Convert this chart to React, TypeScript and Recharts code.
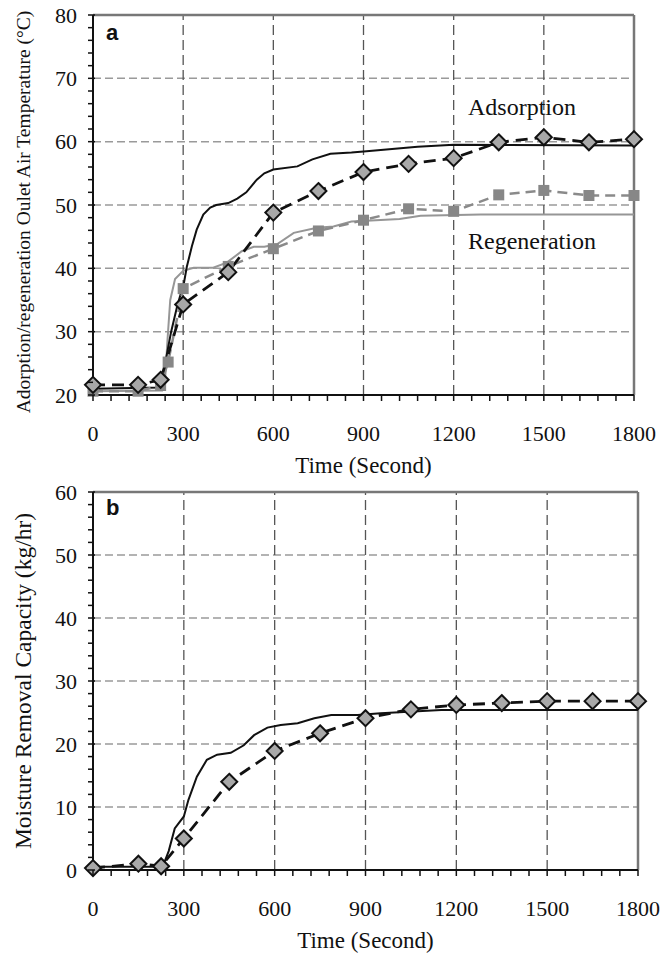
import { LineChart, Line, XAxis, YAxis, ReferenceLine } from "recharts";

// measured points (markers), sampled every 150 s
const measuredTime = [0, 150, 225, 300, 450, 600, 750, 900, 1050, 1200, 1350, 1500, 1650, 1800];
const adsMeasured = [21.6, 21.6, 22.4, 34.3, 39.4, 48.8, 52.2, 55.2, 56.5, 57.4, 59.9, 60.7, 59.9, 60.4];

const regMeasuredTime = [0, 150, 225, 250, 300, 450, 600, 750, 900, 1050, 1200, 1350, 1500, 1650, 1800];
const regMeasured = [20.6, 20.6, 21.5, 25.2, 36.8, 40.3, 43.1, 45.9, 47.6, 49.4, 49.0, 51.6, 52.3, 51.5, 51.5];

// simulated curves
const adsSimTime = [0, 225, 240, 260, 280, 303, 312, 329, 345, 367, 390, 410, 450, 480, 510, 545, 570, 600, 680, 730, 790, 860, 910, 1080, 1200, 1800];
const adsSim = [21.0, 21.2, 25, 30, 34, 37.8, 40.2, 43.5, 46.1, 48.5, 49.6, 50.0, 50.3, 51.0, 52.0, 54.0, 55.0, 55.6, 56.1, 57.2, 58.1, 58.3, 58.5, 59.2, 59.5, 59.4];

const regSimTime = [0, 230, 240, 248, 257, 273, 300, 335, 400, 445, 495, 535, 570, 612, 668, 745, 800, 860, 910, 1020, 1090, 1290, 1800];
const regSim = [20.6, 20.7, 22.5, 28.8, 35.0, 38.3, 39.6, 40.1, 40.1, 40.9, 42.7, 43.4, 43.4, 43.8, 45.6, 46.4, 46.6, 47.4, 47.5, 47.8, 48.3, 48.5, 48.5];

const moistTime = [0, 150, 225, 300, 450, 600, 750, 900, 1050, 1200, 1350, 1500, 1650, 1800];
const moistMeasured = [0.3, 1.0, 0.6, 5.0, 14.0, 18.9, 21.7, 24.1, 25.5, 26.2, 26.5, 26.8, 26.8, 26.8];

const moistSimTime = [0, 230, 250, 270, 300, 315, 343, 376, 410, 455, 498, 532, 576, 620, 676, 731, 787, 874, 950, 1150, 1800];
const moistSim = [0.5, 0.5, 3.0, 6.6, 8.5, 11.1, 14.8, 17.5, 18.3, 18.6, 19.8, 21.4, 22.6, 23.0, 23.3, 24.1, 24.6, 24.6, 24.9, 25.4, 25.4];

// axis labels
const xLabels = [0, 300, 600, 900, 1200, 1500, 1800];
const xGrid = [300, 600, 900, 1200, 1500];
const tempLabels = [20, 30, 40, 50, 60, 70, 80];
const moistLabels = [0, 10, 20, 30, 40, 50, 60];

const xMinorTicks = Array.from({ length: 31 }, (_, i) => i * 60);
const tempTicks = Array.from({ length: 31 }, (_, i) => 20 + i * 2);
const moistTicks = Array.from({ length: 31 }, (_, i) => i * 2);

const zip = (xs: number[], ys: number[]) => xs.map((t, i) => ({ t, v: ys[i] }));

const FONT = "'Liberation Serif', 'Times New Roman', serif";

const Diamond = (props: any) => {
  const { cx, cy, index } = props;
  if (cx == null || cy == null) return null;
  const r = 8;
  return (
    <path
      key={`dm-${index}`}
      d={`M${cx},${cy - r} L${cx + r},${cy} L${cx},${cy + r} L${cx - r},${cy} Z`}
      fill="#a8a8a8"
      stroke="#111"
      strokeWidth={2}
    />
  );
};

const Square = (props: any) => {
  const { cx, cy, index } = props;
  if (cx == null || cy == null) return null;
  return <rect key={`sq-${index}`} x={cx - 5.5} y={cy - 5.5} width={11} height={11} fill="#878787" />;
};

const XTick = (props: any) => {
  const { x, y, payload } = props;
  const labelled = xLabels.includes(payload.value);
  return (
    <g>
      <line x1={x} x2={x} y1={y} y2={y + 6} stroke="#111" strokeWidth={1.5} />
      {labelled && (
        <text x={x} y={y + 38} textAnchor="middle" dominantBaseline="central" fontFamily={FONT} fontSize={22} fill="#111">
          {payload.value}
        </text>
      )}
    </g>
  );
};

const makeYTick = (labels: number[]) => (props: any) => {
  const { x, y, payload } = props;
  const labelled = labels.includes(payload.value);
  return (
    <g>
      <line x1={x - 5} x2={x + (labelled ? 2 : 0)} y1={y} y2={y} stroke="#111" strokeWidth={1.5} />
      {labelled && (
        <text x={x - 16} y={y} textAnchor="end" dominantBaseline="central" fontFamily={FONT} fontSize={22} fill="#111">
          {payload.value}
        </text>
      )}
    </g>
  );
};

const xTitle = ({ viewBox }: any) => (
  <text
    x={viewBox.x + viewBox.width / 2}
    y={viewBox.y + 70}
    textAnchor="middle"
    dominantBaseline="central"
    fontFamily={FONT}
    fontSize={23}
    fill="#111"
  >
    Time (Second)
  </text>
);

const yTitle = (text: string, size: number, shift: number) => ({ viewBox }: any) => {
  const cx = viewBox.x;
  const cy = viewBox.y + viewBox.height / 2 + shift;
  return (
    <text
      x={cx}
      y={cy}
      transform={`rotate(-90, ${cx}, ${cy})`}
      textAnchor="middle"
      dominantBaseline="central"
      fontFamily={FONT}
      fontSize={size}
      fill="#111"
    >
      {text}
    </text>
  );
};

const hGrid = (values: number[]) =>
  values.map((v) => <ReferenceLine key={`h-${v}`} y={v} stroke="#9a9a9a" strokeWidth={1.5} strokeDasharray="8 4" />);

const vGrid = xGrid.map((v) => (
  <ReferenceLine key={`v-${v}`} x={v} stroke="#555" strokeWidth={1.3} strokeDasharray="10 5" />
));

const panelLetter = (letter: string, top: number) => (
  <div
    style={{
      position: "absolute",
      left: 106,
      top,
      fontFamily: "'Liberation Sans', Arial, sans-serif",
      fontWeight: "bold",
      fontSize: 22,
      color: "#111",
    }}
  >
    {letter}
  </div>
);

const annotation = (text: string, left: number, top: number) => (
  <div style={{ position: "absolute", left, top, fontFamily: FONT, fontSize: 24, color: "#111", lineHeight: "24px" }}>
    {text}
  </div>
);

const App = () => {
  return (
    <div style={{ position: "absolute", left: 0, top: 0, width: 661, height: 956, background: "#fff" }}>
      <div style={{ position: "absolute", left: 0, top: 0 }}>
        <LineChart width={661} height={480} margin={{ top: 15, right: 27, bottom: 5, left: 23 }}>
          {hGrid([30, 40, 50, 60, 70])}
          {vGrid}
          <ReferenceLine y={80} stroke="#777" strokeWidth={2.5} />
          <ReferenceLine x={1800} stroke="#777" strokeWidth={2.5} />
          <XAxis
            type="number"
            dataKey="t"
            domain={[0, 1800]}
            ticks={xMinorTicks}
            interval={0}
            tickSize={0}
            tickMargin={0}
            tick={<XTick />}
            axisLine={{ stroke: "#111", strokeWidth: 2 }}
            height={80}
            label={{ content: xTitle }}
            allowDuplicatedCategory={false}
          />
          <YAxis
            type="number"
            domain={[20, 80]}
            ticks={tempTicks}
            interval={0}
            tickSize={0}
            tickMargin={0}
            tick={makeYTick(tempLabels)}
            axisLine={{ stroke: "#111", strokeWidth: 2 }}
            width={70}
            label={{ content: yTitle("Adorption/regeneration Oulet Air Temperature (°C)", 19.5, 7) }}
          />
          <Line data={zip(regSimTime, regSim)} dataKey="v" type="linear" stroke="#969696" strokeWidth={2} dot={false} isAnimationActive={false} />
          <Line data={zip(adsSimTime, adsSim)} dataKey="v" type="linear" stroke="#111" strokeWidth={2} dot={false} isAnimationActive={false} />
          <Line
            data={zip(regMeasuredTime, regMeasured)}
            dataKey="v"
            type="linear"
            stroke="#8a8a8a"
            strokeWidth={2.5}
            strokeDasharray="10 6"
            dot={Square}
            isAnimationActive={false}
          />
          <Line
            data={zip(measuredTime, adsMeasured)}
            dataKey="v"
            type="linear"
            stroke="#111"
            strokeWidth={2.8}
            strokeDasharray="12 7"
            dot={Diamond}
            isAnimationActive={false}
          />
        </LineChart>
      </div>
      {panelLetter("a", 20)}
      {annotation("Adsorption", 468, 95)}
      {annotation("Regeneration", 468, 229)}

      <div style={{ position: "absolute", left: 0, top: 477 }}>
        <LineChart width={661} height={479} margin={{ top: 15, right: 23, bottom: 6, left: 23 }}>
          {hGrid([10, 20, 30, 40, 50])}
          {vGrid}
          <ReferenceLine y={60} stroke="#777" strokeWidth={2.5} />
          <ReferenceLine x={1800} stroke="#777" strokeWidth={2.5} />
          <XAxis
            type="number"
            dataKey="t"
            domain={[0, 1800]}
            ticks={xMinorTicks}
            interval={0}
            tickSize={0}
            tickMargin={0}
            tick={<XTick />}
            axisLine={{ stroke: "#111", strokeWidth: 2 }}
            height={80}
            label={{ content: xTitle }}
            allowDuplicatedCategory={false}
          />
          <YAxis
            type="number"
            domain={[0, 60]}
            ticks={moistTicks}
            interval={0}
            tickSize={0}
            tickMargin={0}
            tick={makeYTick(moistLabels)}
            axisLine={{ stroke: "#111", strokeWidth: 2 }}
            width={70}
            label={{ content: yTitle("Moisture Removal Capacity (kg/hr)", 23.5, 0) }}
          />
          <Line data={zip(moistSimTime, moistSim)} dataKey="v" type="linear" stroke="#111" strokeWidth={2} dot={false} isAnimationActive={false} />
          <Line
            data={zip(moistTime, moistMeasured)}
            dataKey="v"
            type="linear"
            stroke="#111"
            strokeWidth={2.8}
            strokeDasharray="12 7"
            dot={Diamond}
            isAnimationActive={false}
          />
        </LineChart>
      </div>
      {panelLetter("b", 495)}
    </div>
  );
};

export default App;
